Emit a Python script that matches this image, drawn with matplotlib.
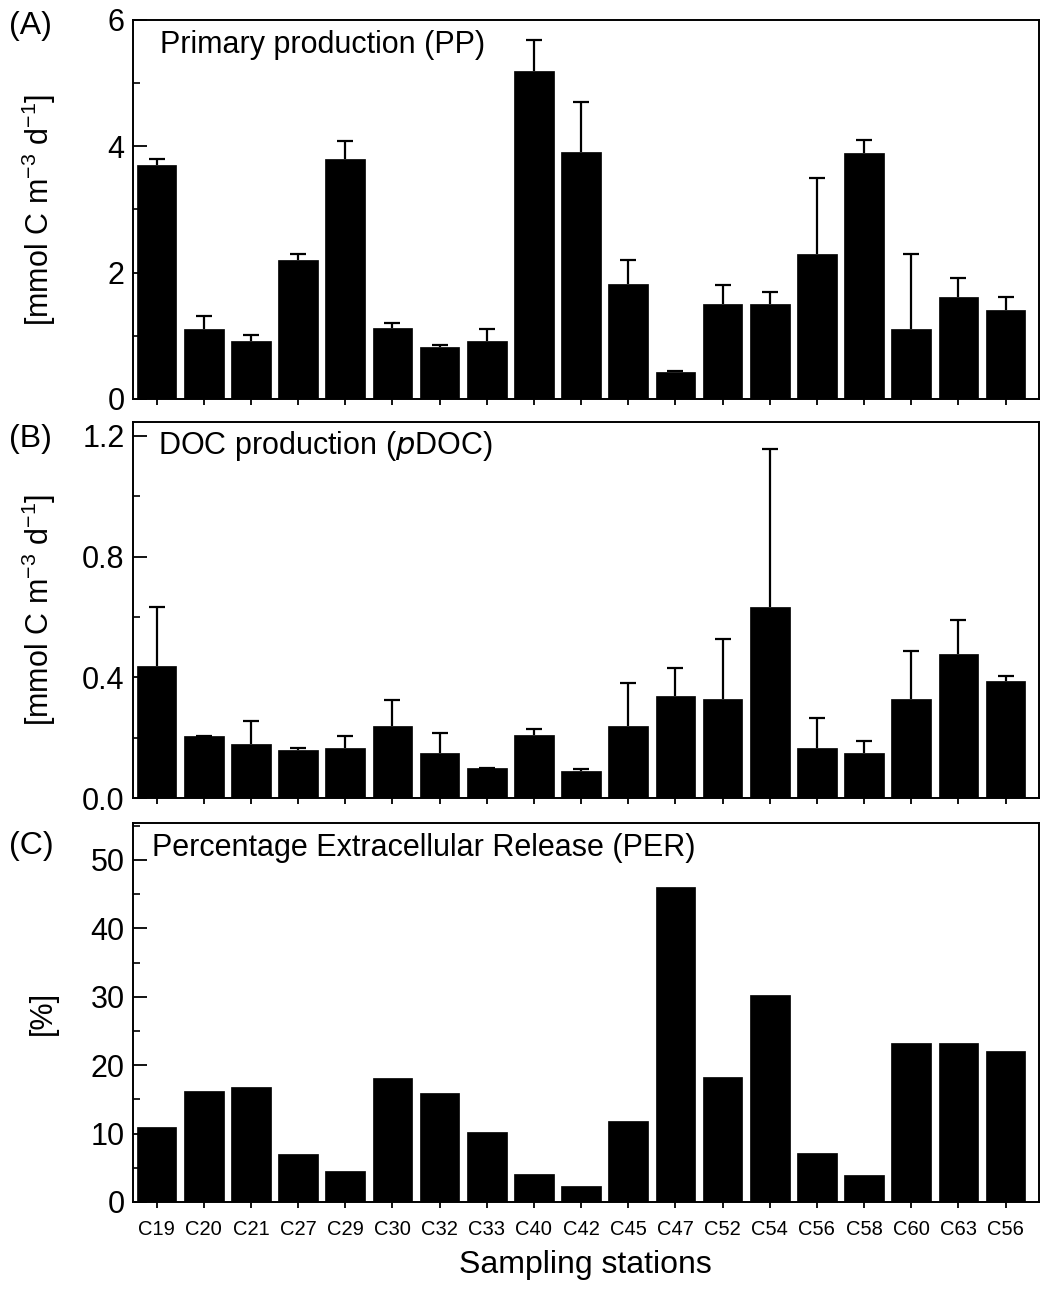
import matplotlib
matplotlib.use("Agg")
import matplotlib.pyplot as plt
from matplotlib.ticker import MultipleLocator
import numpy as np

plt.rcParams['font.family'] = ['Liberation Sans', 'DejaVu Sans']

stations = ['C19', 'C20', 'C21', 'C27', 'C29', 'C30', 'C32', 'C33', 'C40', 'C42',
            'C45', 'C47', 'C52', 'C54', 'C56', 'C58', 'C60', 'C63', 'C56']

# (A) primary production, mean and upper error bar end
pp = [3.71, 1.11, 0.92, 2.20, 3.80, 1.12, 0.82, 0.92, 5.19, 3.91,
      1.82, 0.42, 1.51, 1.51, 2.29, 3.90, 1.11, 1.62, 1.41]
pp_top = [3.80, 1.31, 1.01, 2.29, 4.09, 1.21, 0.86, 1.10, 5.68, 4.70,
          2.20, 0.45, 1.80, 1.70, 3.49, 4.10, 2.29, 1.91, 1.61]

# (B) DOC production
pdoc = [0.438, 0.207, 0.178, 0.158, 0.167, 0.238, 0.148, 0.099, 0.208, 0.089,
        0.238, 0.338, 0.327, 0.634, 0.167, 0.148, 0.327, 0.478, 0.388]
pdoc_top = [0.634, 0.207, 0.255, 0.167, 0.206, 0.325, 0.217, 0.101, 0.230, 0.096,
            0.380, 0.430, 0.528, 1.158, 0.265, 0.189, 0.486, 0.590, 0.403]

# (C) PER
per = [10.9, 16.2, 16.8, 7.0, 4.5, 18.1, 15.9, 10.2, 4.1, 2.4,
       11.8, 46.1, 18.2, 30.2, 7.1, 3.9, 23.2, 23.2, 22.0]

x = np.arange(len(stations))
ylab = '[mmol C m$^{\\mathregular{-3}}$ d$^{\\mathregular{-1}}$]'

fig = plt.figure(figsize=(10.47, 12.94), dpi=100)
axA = fig.add_axes([0.127, 0.6917, 0.865, 0.2929])
axB = fig.add_axes([0.127, 0.3833, 0.865, 0.2906])
axC = fig.add_axes([0.127, 0.0711, 0.865, 0.2929])


def draw(ax, vals, tops, ylim, major, minor, title, panel, ylabel, tx, py):
    vals = np.array(vals)
    ax.bar(x, vals, width=0.84, color='black', edgecolor='black', linewidth=0.5,
           zorder=2)
    if tops is not None:
        up = np.array(tops) - vals
        _, caps, _ = ax.errorbar(x, vals, yerr=[np.zeros_like(up), up], fmt='none',
                                 ecolor='black', elinewidth=1.6, capsize=5.5,
                                 capthick=1.6, zorder=1)
        caps[0].set_visible(False)
    ax.set_xlim(-0.5, 18.7)
    ax.set_ylim(*ylim)
    ax.yaxis.set_major_locator(MultipleLocator(major))
    ax.yaxis.set_minor_locator(MultipleLocator(minor))
    ax.set_xticks(x)
    ax.tick_params(axis='y', which='major', direction='in', length=10, width=1.3,
                   labelsize=22, pad=6, right=False)
    ax.tick_params(axis='y', which='minor', direction='in', length=5, width=1.2,
                   right=False)
    ax.tick_params(axis='x', which='major', direction='out', length=4, width=1.3,
                   top=False)
    for s in ax.spines.values():
        s.set_linewidth(1.4)
    ax.text(tx, 0.935, title, transform=ax.transAxes, fontsize=22,
            va='center', ha='left')
    ax.text(-0.137, py, panel, transform=ax.transAxes, fontsize=23,
            va='center', ha='left')
    ax.set_ylabel(ylabel, fontsize=22)
    ax.yaxis.set_label_coords(-0.083, 0.5)


draw(axA, pp, pp_top, (0, 6), 2, 1, 'Primary production (PP)', '(A)', ylab,
     0.03, 0.985)
axA.set_xticklabels([])
axA.yaxis.set_major_formatter(plt.FormatStrFormatter('%d'))

draw(axB, pdoc, pdoc_top, (0, 1.246), 0.4, 0.2,
     'DOC production ($\\mathit{p}$DOC)', '(B)', ylab, 0.028, 0.955)
axB.set_xticklabels([])
axB.yaxis.set_major_formatter(plt.FormatStrFormatter('%.1f'))

draw(axC, per, None, (0, 55.4), 10, 5,
     'Percentage Extracellular Release (PER)', '(C)', '[%]', 0.021, 0.94)
axC.set_xticklabels(stations, fontsize=14.5)
axC.tick_params(axis='x', pad=9)
axC.set_xlabel('Sampling stations', fontsize=23, labelpad=8)

fig.savefig('out.png', dpi=100)
